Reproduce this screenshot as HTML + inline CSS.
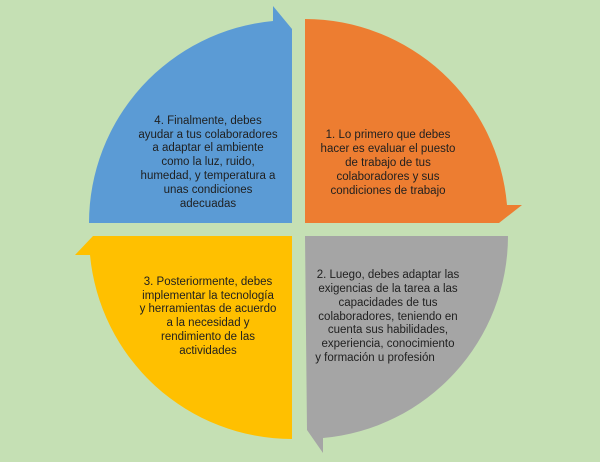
<!DOCTYPE html>
<html><head><meta charset="utf-8"><style>
html,body{margin:0;padding:0;background:#c5e0b4;}
svg{display:block}
text{font-family:"Liberation Sans",sans-serif;font-size:11.5px;fill:#1f1f1f;text-anchor:middle}
</style></head><body>
<svg width="600" height="462" viewBox="0 0 600 462">
<rect width="600" height="462" fill="#c5e0b4"/>
<path d="M292,223 L89,223 A203,203 0 0 1 273,21 L273,6 L292,29 Z" fill="#5b9bd5"/>
<path d="M305,223 L305,19 A203,203 0 0 1 507,205 L522,205 L499,223 Z" fill="#ed7d31"/>
<path d="M305,236 L508,236 A203,203 0 0 1 323,438 L323,453 L307,430 Z" fill="#a5a5a5"/>
<path d="M292,236 L292,439 A203,203 0 0 1 90,255 L75,255 L93,236 Z" fill="#ffc000"/>
<g>
<text x="208" y="124">4. Finalmente, debes</text>
<text x="208" y="138">ayudar a tus colaboradores</text>
<text x="208" y="151">a adaptar el ambiente</text>
<text x="208" y="165">como la luz, ruido,</text>
<text x="208" y="179">humedad,  y temperatura  a</text>
<text x="208" y="193">unas condiciones</text>
<text x="208" y="207">adecuadas</text>
</g>
<g>
<text x="388" y="138">1. Lo primero que debes</text>
<text x="388" y="152">hacer es evaluar el puesto</text>
<text x="388" y="166">de trabajo de tus</text>
<text x="388" y="180">colaboradores y sus</text>
<text x="388" y="194">condiciones de trabajo</text>
</g>
<g>
<text x="388" y="278">2. Luego, debes adaptar las</text>
<text x="388" y="292">exigencias de la tarea a las</text>
<text x="388" y="306">capacidades de tus</text>
<text x="388" y="320">colaboradores, teniendo en</text>
<text x="388" y="333">cuenta sus habilidades,</text>
<text x="388" y="347">experiencia, conocimiento</text>
<text x="375" y="361">y formación u profesión</text>
</g>
<g>
<text x="208" y="285">3. Posteriormente,  debes</text>
<text x="208" y="299">implementar  la tecnología</text>
<text x="208" y="312">y herramientas de acuerdo</text>
<text x="208" y="326">a la necesidad y</text>
<text x="208" y="340">rendimiento  de las</text>
<text x="208" y="354">actividades</text>
</g>
</svg>
</body></html>
